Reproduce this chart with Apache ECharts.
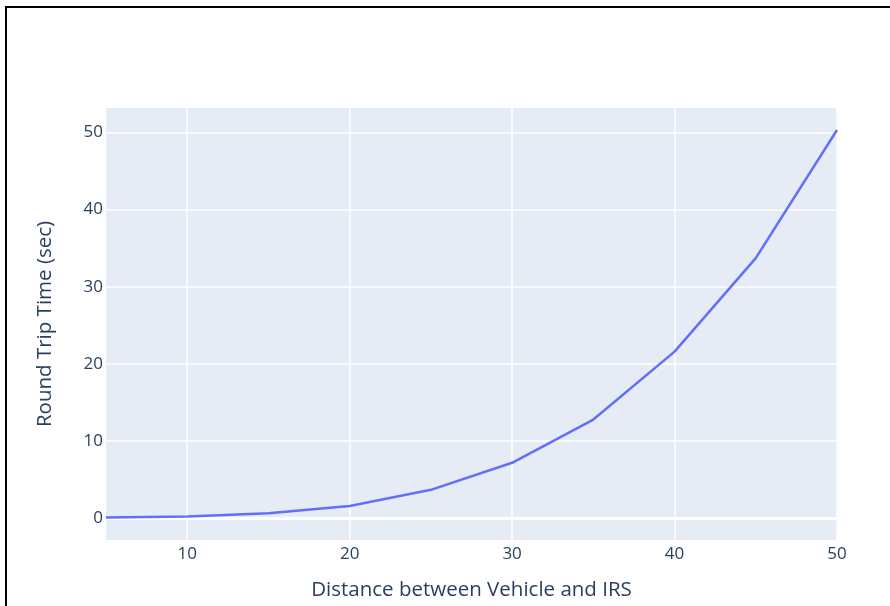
<!DOCTYPE html>
<html>
<head>
<meta charset="utf-8">
<script src="https://cdn.jsdelivr.net/npm/echarts@6/dist/echarts.min.js"></script>
<style>
  html, body { margin: 0; padding: 0; background: #fff; }
  #wrap { position: relative; width: 890px; height: 606px; overflow: hidden; }
  #frame { position: absolute; left: 5px; top: 6px; right: -10px; bottom: -10px;
           border-left: 2px solid #000; border-top: 2px solid #000; pointer-events: none; }
  #chart { position: absolute; left: 0; top: 0; width: 890px; height: 606px; }
</style>
</head>
<body>
<div id="wrap">
  <div id="chart"></div>
  <div id="frame"></div>
</div>
<script>
// distance (x) and round trip time (y)
var distances = [5, 10, 15, 20, 25, 30, 35, 40, 45, 50];
var rttValues = [0.1, 0.25, 0.65, 1.6, 3.7, 7.2, 12.8, 21.6, 33.7, 50.3];
var xTicks = [10, 20, 30, 40, 50];
var yTicks = [0, 10, 20, 30, 40, 50];

var textColor = "#2a3f5f";
var chart = echarts.init(document.getElementById("chart"));

var points = distances.map(function(d, i) {
  return [d, rttValues[i]];
});

chart.setOption({
  animation: false,
  textStyle: { fontFamily: "Open Sans" },
  grid: {
    left: 106,
    right: 53,
    top: 108,
    bottom: 66,
    show: true,
    backgroundColor: "#E5ECF6",
    borderWidth: 0
  },
  xAxis: {
    type: "value",
    min: 5,
    max: 50,
    name: "Distance between Vehicle and IRS",
    nameLocation: "middle",
    nameGap: 40,
    nameTextStyle: { color: textColor, fontSize: 20.5 },
    axisLine: { show: false },
    axisTick: { show: false, customValues: xTicks },
    axisLabel: {
      customValues: xTicks,
      color: textColor,
      fontSize: 17,
      margin: 6
    },
    splitLine: { show: true, lineStyle: { color: "#fff", width: 1.5 } }
  },
  yAxis: {
    type: "value",
    min: -2.8,
    max: 53.15,
    name: "Round Trip Time (sec)",
    nameLocation: "middle",
    nameGap: 50,
    nameTextStyle: { color: textColor, fontSize: 20.5 },
    axisLine: { show: false },
    axisTick: { show: false, customValues: yTicks },
    axisLabel: {
      customValues: yTicks,
      color: textColor,
      fontSize: 17,
      margin: 3
    },
    splitLine: { show: true, lineStyle: { color: "#fff", width: 1.5 } }
  },
  series: [
    {
      type: "line",
      data: points,
      symbol: "none",
      lineStyle: { color: "#636efa", width: 2.5 },
      markLine: {
        silent: true,
        symbol: "none",
        label: { show: false },
        lineStyle: { color: "#fff", width: 3, type: "solid" },
        data: [{ yAxis: 0 }],
        z: 1
      },
      z: 3
    }
  ]
});
</script>
</body>
</html>
